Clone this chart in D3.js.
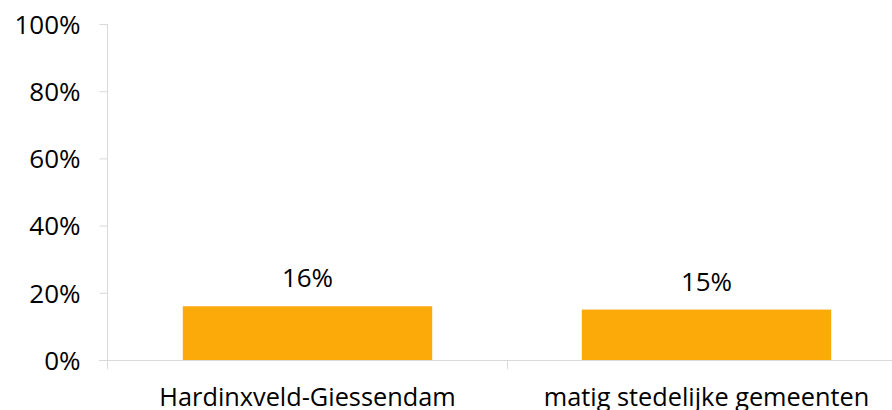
<!DOCTYPE html>
<html><head><meta charset="utf-8">
<script src="https://cdn.jsdelivr.net/npm/d3@7"></script>
<style>body{margin:0;background:#fff}svg{display:block}text{font-family:"Open Sans",sans-serif;fill:#000}</style>
</head><body>
<svg id="c" width="892" height="410"></svg>
<script>
const categories = ["Hardinxveld-Giessendam", "matig stedelijke gemeenten"];
const values = [0.16, 0.15];
const valueLabels = ["16%", "15%"];
const yTicks = [0, 0.2, 0.4, 0.6, 0.8, 1.0];

const svg = d3.select("#c");
const x = d3.scaleBand().domain(categories).range([108, 906]).paddingInner(0.375).paddingOuter(0.1875);
const y = d3.scaleLinear().domain([0, 1]).range([360, 24]);
const axisColor = "#d9d9d9";

// y axis
const ya = svg.append("g").attr("transform", "translate(107.5,0)")
  .call(d3.axisLeft(y).tickValues(yTicks).tickFormat(d3.format(".0%")).tickSize(8).tickPadding(19));
ya.select(".domain").attr("stroke", axisColor).attr("d", `M0,${y(1)}V369`);
ya.selectAll(".tick line").attr("stroke", axisColor);
ya.selectAll(".tick text").style("font-size", "26px").attr("fill", "#000").attr("dy", "0.36em")
  .style("font-family", '"Open Sans",sans-serif');

// baseline
svg.append("line").attr("x1", 99).attr("x2", 892).attr("y1", y(0) + 0.5).attr("y2", y(0) + 0.5).attr("stroke", axisColor);
// category separators
categories.slice(1).forEach(c => {
  const sx = Math.round(x(c) - (x.step() - x.bandwidth()) / 2);
  svg.append("line").attr("x1", sx + 0.5).attr("x2", sx + 0.5).attr("y1", y(0)).attr("y2", y(0) + 9).attr("stroke", axisColor);
});

// bars
svg.selectAll("rect.bar").data(categories).join("rect").attr("class", "bar")
  .attr("x", d => x(d)).attr("width", x.bandwidth())
  .attr("y", (d, i) => y(values[i])).attr("height", (d, i) => y(0) - y(values[i]))
  .attr("fill", "#FBAA09");

// value labels
svg.selectAll("text.vl").data(categories).join("text").attr("class", "vl")
  .attr("x", d => x(d) + x.bandwidth() / 2).attr("y", (d, i) => y(values[i]) - 19)
  .attr("text-anchor", "middle").style("font-size", "26px").text((d, i) => valueLabels[i]);

// category labels
svg.selectAll("text.cl").data(categories).join("text").attr("class", "cl")
  .attr("x", d => x(d) + x.bandwidth() / 2).attr("y", 406)
  .attr("text-anchor", "middle").style("font-size", "25.3px").text(d => d);
</script>
</body></html>
